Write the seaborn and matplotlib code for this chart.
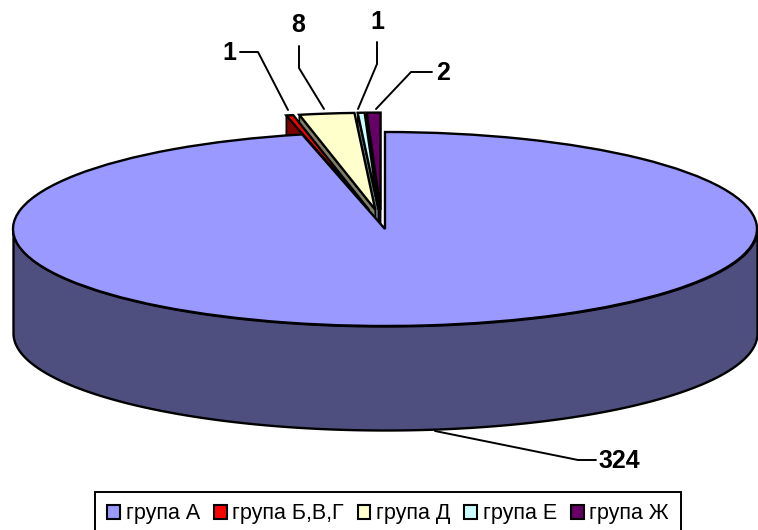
import numpy as np
import seaborn as sns
import matplotlib
matplotlib.use('Agg')
import matplotlib.pyplot as plt
from matplotlib.patches import Patch

# Données du graphique
groupes = ['група А', 'група Б,В,Г', 'група Д', 'група Е', 'група Ж']
valeurs = [324, 1, 8, 1, 2]
ecarts = [0, 0.2, 0.2, 0.2, 0.2]
couleurs = ['#9999FF', '#FF0000', '#FFFFCC', '#CCFFFF', '#660066']
couleurs_cotes = ['#4F4F7F', '#800000', '#80806A', '#668080', '#330033']
etiquettes = ['324', '1', '8', '1', '2']

sns.set_theme(style='white')
plt.rcParams['font.family'] = ['Liberation Sans', 'DejaVu Sans']
plt.rcParams['text.color'] = 'black'

L, H = 758, 530
CX, CY, RX, RY = 385, 229, 372, 97
PROF = 104 / RY


def px(x, y):
    # pixels de l'image -> unités du camembert
    return (x - CX) / RX, (CY - y) / RY


fig = plt.figure(figsize=(L / 100, H / 100), dpi=100)
ax = fig.add_axes([0, 0, 1, 1])

wedges, _ = ax.pie(valeurs, startangle=90, counterclock=False, explode=ecarts,
                   colors=sns.color_palette(couleurs),
                   wedgeprops={'edgecolor': 'black', 'linewidth': 1.7})
ax.set_aspect('auto')
ax.set_xlim(px(0, 0)[0], px(L, 0)[0])
ax.set_ylim(px(0, H)[1], px(0, 0)[1])

# léger décalage des deux dernières parts vers la gauche
for i in (3, 4):
    cx, cy = wedges[i].center
    wedges[i].set_center((cx - 3 / RX, cy))

# Paroi avant du groupe A
t = np.radians(np.linspace(180, 360, 200))
ax.fill_between(np.cos(t), np.sin(t), np.sin(t) - PROF, color=couleurs_cotes[0],
                edgecolor='black', linewidth=1.7, zorder=1)

# Parois des petites parts, de droite à gauche
for i in range(4, 0, -1):
    w = wedges[i]
    cx, cy = w.center
    a = np.radians(w.theta2)
    ex, ey = cx + np.cos(a), cy + np.sin(a)
    ax.fill([cx, ex, ex, cx], [cy, ey, ey - PROF, cy - PROF], color=couleurs_cotes[i],
            edgecolor='black', linewidth=1.2, zorder=2)

wedges[0].set_zorder(3)
for w in wedges[1:]:
    w.set_zorder(4)

# Étiquettes avec lignes de rappel
rappels = [
    ([(435, 431), (578, 460), (596, 460)], (619, 461)),
    ([(288, 110), (258, 52), (240, 52)], (229, 53)),
    ([(324, 109), (299, 68), (299, 46)], (298, 25)),
    ([(358, 109), (377, 64), (377, 42)], (377, 22)),
    ([(376, 109), (411, 72), (432, 72)], (443, 73)),
]
for txt, (pts, pos) in zip(etiquettes, rappels):
    xy = [px(*p) for p in pts]
    ax.plot([p[0] for p in xy], [p[1] for p in xy], color='black', lw=1.4, zorder=5)
    ax.text(*px(*pos), txt, ha='center', va='center', fontsize=18, fontweight='bold', zorder=6)

# La légende dépasse en bas de l'image, comme sur l'original
handles = [Patch(facecolor=c, edgecolor='black', linewidth=1.5) for c in couleurs]
leg = fig.legend(handles, groupes, ncol=5, loc='center', bbox_to_anchor=(388 / L, 1 - 514 / H),
                 frameon=True, fancybox=False, edgecolor='black', framealpha=1,
                 fontsize=15.5, handlelength=0.6, handleheight=0.6, handletextpad=0.27,
                 columnspacing=0.63, borderpad=0.55, borderaxespad=0)
leg.get_frame().set_linewidth(1.4)

fig.savefig('out.png', dpi=100)
